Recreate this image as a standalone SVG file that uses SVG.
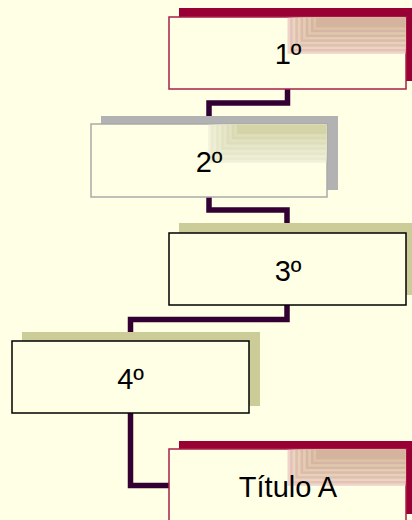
<svg xmlns="http://www.w3.org/2000/svg" width="412" height="520" viewBox="0 0 412 520">
<style>
.bg{fill:#FFFFE5}
.conn{fill:none;stroke:#330033;stroke-width:5.5;stroke-linejoin:miter}
.box{fill:#FFFFE5;stroke-width:1.5}
.red .sh{fill:#990033}
.red .box{stroke:#A8204A}
.gray .sh{fill:#B2B2B2}
.gray .box{stroke:#ABABAB}
.olive .sh{fill:#CCCC99}
.olive .box{stroke:#000000}
.lbl{font-family:"Liberation Sans",Arial,sans-serif;font-size:29px;fill:#000;text-anchor:middle}
</style>
<defs>
<g id="pinkPatch">
<rect x="-118" y="0" width="118" height="36" fill="#EED4CA"/>
<rect x="-115.4" y="0" width="115.4" height="33.6" fill="#E4C2B8"/>
<rect x="-112.8" y="0" width="112.8" height="31.2" fill="#EAD6BE"/>
<rect x="-110.2" y="0" width="110.2" height="28.8" fill="#E0BEB2"/>
<rect x="-107.6" y="0" width="107.6" height="26.4" fill="#E6D2B8"/>
<rect x="-105" y="0" width="105" height="24" fill="#DDBAAC"/>
<rect x="-102.4" y="0" width="102.4" height="21.6" fill="#E4CEB2"/>
<rect x="-99.8" y="0" width="99.8" height="19.2" fill="#DAB6A8"/>
<rect x="-97.2" y="0" width="97.2" height="16.8" fill="#E0CAAC"/>
<rect x="-94.6" y="0" width="94.6" height="14.4" fill="#D8B4A4"/>
<rect x="-92" y="0" width="92" height="12" fill="#DCC4A6"/>
<rect x="-89.4" y="0" width="89.4" height="9.6" fill="#D4B49E"/>
</g>
<g id="greenPatch">
<rect x="-118" y="0" width="118" height="38" fill="#F2F2DC"/>
<rect x="-115.4" y="0" width="115.4" height="35.4" fill="#EAEACE"/>
<rect x="-112.8" y="0" width="112.8" height="32.8" fill="#EEEED6"/>
<rect x="-110.2" y="0" width="110.2" height="30.2" fill="#E6E6C8"/>
<rect x="-107.6" y="0" width="107.6" height="27.6" fill="#EAEAD0"/>
<rect x="-105" y="0" width="105" height="25" fill="#E2E2C2"/>
<rect x="-102.4" y="0" width="102.4" height="22.4" fill="#E6E6CA"/>
<rect x="-99.8" y="0" width="99.8" height="19.8" fill="#DEDEBA"/>
<rect x="-97.2" y="0" width="97.2" height="17.2" fill="#E2E2C2"/>
<rect x="-94.6" y="0" width="94.6" height="14.6" fill="#DADAB2"/>
<rect x="-92" y="0" width="92" height="12" fill="#DEDEBA"/>
<rect x="-89.4" y="0" width="89.4" height="9.4" fill="#D4D4A8"/>
</g>
</defs>
<rect class="bg" x="0" y="0" width="412" height="520"/>
<g id="connectors">
<path class="conn" d="M287.5 89 V103 H209 V124"/>
<path class="conn" d="M209 197 V210 H287 V233"/>
<path class="conn" d="M287 305 V319.5 H130.5 V341"/>
<path class="conn" d="M130.5 413 V485.5 H169"/>
</g>
<g id="node1" class="red">
<rect class="sh" x="179" y="8" width="237" height="73"/>
<rect class="box" x="169" y="17" width="237" height="72"/>
<use href="#pinkPatch" x="405.5" y="17.8"/>
<text class="lbl" x="288" y="64">1º</text>
</g>
<g id="node2" class="gray">
<rect class="sh" x="101" y="116" width="237" height="74"/>
<rect class="box" x="91" y="124" width="236" height="73"/>
<use href="#greenPatch" x="326.3" y="124.8"/>
<text class="lbl" x="209" y="172">2º</text>
</g>
<g id="node3" class="olive">
<rect class="sh" x="179" y="223" width="237" height="72"/>
<rect class="box" x="169" y="233" width="237" height="72"/>
<text class="lbl" x="288" y="281">3º</text>
</g>
<g id="node4" class="olive">
<rect class="sh" x="22" y="332" width="238" height="74"/>
<rect class="box" x="12" y="341" width="237" height="72"/>
<text class="lbl" x="130.5" y="389">4º</text>
</g>
<g id="node5" class="red">
<rect class="sh" x="179" y="441" width="237" height="73"/>
<rect class="box" x="169" y="449" width="237" height="72"/>
<use href="#pinkPatch" x="405.5" y="449.8"/>
<text class="lbl" x="288" y="497">Título A</text>
</g>
</svg>
